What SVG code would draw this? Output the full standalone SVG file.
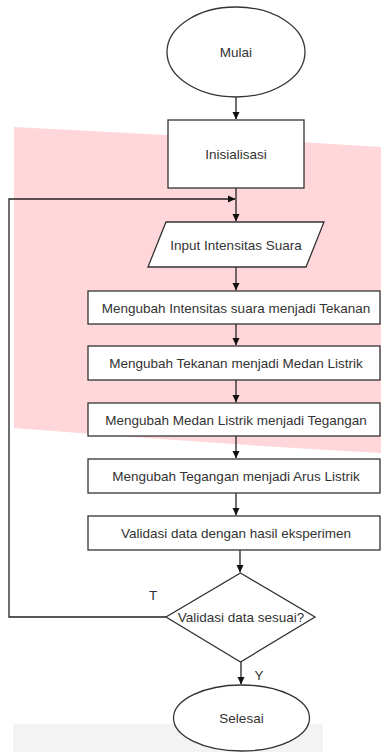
<svg xmlns="http://www.w3.org/2000/svg" width="381" height="752" viewBox="0 0 381 752">
<style>
.s{fill:#fff;stroke:#333;stroke-width:1.3}
.t{font-family:"Liberation Sans",Arial,sans-serif;font-size:13.5px;fill:#333;text-anchor:middle;dominant-baseline:central}
.c{fill:none;stroke:#222;stroke-width:1.3}
</style>
<defs>
<marker id="a" markerWidth="8" markerHeight="8" refX="7" refY="4" orient="auto" markerUnits="userSpaceOnUse">
<path d="M0,0.5 L7.5,4 L0,7.5 Z" fill="#111"/>
</marker>
</defs>
<rect width="381" height="752" fill="#fff"/>
<path d="M14,127 L300,142 L381,147 L381,453 Q200,443 14,428 Z" fill="#ffd6d9"/>
<rect x="13" y="724" width="310" height="28" fill="#f3f3f3"/>
<g id="connectors">
<path class="c" d="M236,97 V119" marker-end="url(#a)"/>
<path class="c" d="M236,188 V221" marker-end="url(#a)"/>
<path class="c" d="M166,617 H9 V199 H235" marker-end="url(#a)"/>
<path class="c" d="M236,267 V290" marker-end="url(#a)"/>
<path class="c" d="M236,324 V345" marker-end="url(#a)"/>
<path class="c" d="M236,380 V402" marker-end="url(#a)"/>
<path class="c" d="M236,436 V458" marker-end="url(#a)"/>
<path class="c" d="M236,493 V515" marker-end="url(#a)"/>
<path class="c" d="M240,550 V572" marker-end="url(#a)"/>
<path class="c" d="M241,662 V684" marker-end="url(#a)"/>
<text class="t" x="153" y="595">T</text>
<text class="t" x="259" y="675">Y</text>
</g>
<g id="mulai">
<ellipse class="s" cx="236" cy="52" rx="69" ry="45"/>
<text class="t" x="236" y="52">Mulai</text>
</g>
<g id="inisialisasi">
<rect class="s" x="168" y="120" width="136" height="68"/>
<text class="t" x="236" y="154">Inisialisasi</text>
</g>
<g id="input">
<polygon class="s" points="166,222 324,222 306,267 148,267"/>
<text class="t" x="236" y="245">Input Intensitas Suara</text>
</g>
<g id="p1">
<rect class="s" x="88" y="291" width="292" height="33"/>
<text class="t" x="236" y="308">Mengubah Intensitas suara menjadi Tekanan</text>
</g>
<g id="p2">
<rect class="s" x="88" y="346" width="292" height="34"/>
<text class="t" x="236" y="363">Mengubah Tekanan menjadi Medan Listrik</text>
</g>
<g id="p3">
<rect class="s" x="88" y="403" width="292" height="33"/>
<text class="t" x="236" y="420">Mengubah Medan Listrik menjadi Tegangan</text>
</g>
<g id="p4">
<rect class="s" x="88" y="459" width="292" height="34"/>
<text class="t" x="236" y="476">Mengubah Tegangan menjadi Arus Listrik</text>
</g>
<g id="p5">
<rect class="s" x="88" y="516" width="292" height="34"/>
<text class="t" x="236" y="533">Validasi data dengan hasil eksperimen</text>
</g>
<g id="decision">
<polygon class="s" points="240.5,573 315,617 240.5,662 166,617"/>
<text class="t" x="241" y="617">Validasi data sesuai?</text>
</g>
<g id="selesai">
<ellipse class="s" cx="241.5" cy="718" rx="68" ry="33"/>
<text class="t" x="241.5" y="718">Selesai</text>
</g>
</svg>
